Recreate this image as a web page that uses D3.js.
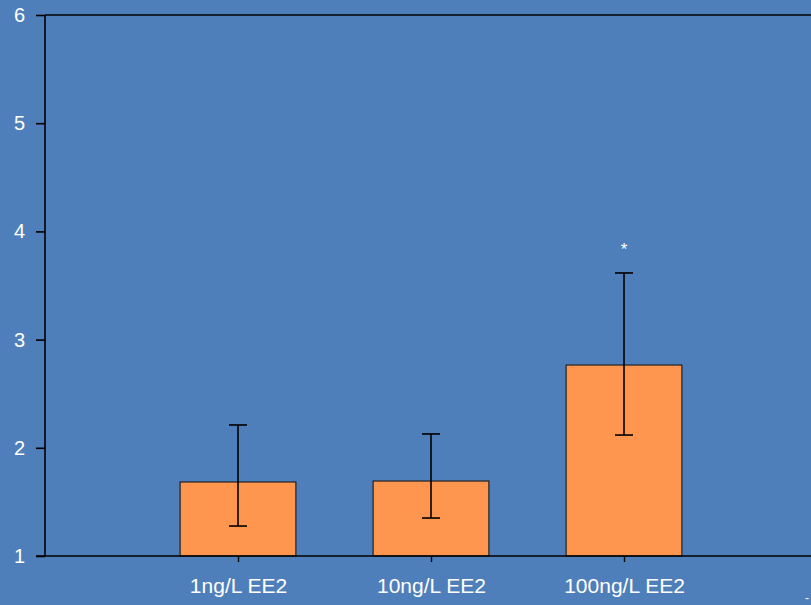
<!DOCTYPE html>
<html><head><meta charset="utf-8">
<script src="https://cdn.jsdelivr.net/npm/d3@7"></script>
<style>body{margin:0;background:#4f7fba;}svg{display:block;}</style>
</head><body>
<script>
const categories = ["1ng/L EE2", "10ng/L EE2", "100ng/L EE2"];
const means = [1.684, 1.693, 2.765];
const errHigh = [2.211, 2.128, 3.616];
const errLow = [1.277, 1.351, 2.118];
const sig = ["", "", "*"];
const yTicks = [1, 2, 3, 4, 5, 6];

const W = 811, H = 605;
const svg = d3.select("body").append("svg").attr("width", W).attr("height", H);
svg.append("rect").attr("width", W).attr("height", H).attr("fill", "#4f7fba");

const x0 = 45, x1 = 817;
const x = d3.scaleLinear().domain([0, categories.length + 1]).range([x0, x1]);
const y = d3.scaleLinear().domain([1, 6]).range([556, 15]);
const step = x(1) - x(0);
const bw = step * 0.6;

// bars
svg.selectAll("rect.bar").data(means).enter().append("rect")
  .attr("x", (d, i) => x(i + 1) - bw / 2)
  .attr("y", d => y(d))
  .attr("width", bw)
  .attr("height", d => y(1) - y(d))
  .attr("fill", "#ff9650")
  .attr("stroke", "#222").attr("stroke-width", 1.2);

// error bars
const cap = 9;
means.forEach((m, i) => {
  const cx = x(i + 1);
  const g = svg.append("g").attr("stroke", "#000").attr("stroke-width", 1.6);
  g.append("line").attr("x1", cx).attr("x2", cx).attr("y1", y(errHigh[i])).attr("y2", y(errLow[i]));
  g.append("line").attr("x1", cx - cap).attr("x2", cx + cap).attr("y1", y(errHigh[i])).attr("y2", y(errHigh[i]));
  g.append("line").attr("x1", cx - cap).attr("x2", cx + cap).attr("y1", y(errLow[i])).attr("y2", y(errLow[i]));
  if (sig[i]) {
    svg.append("text").attr("x", cx).attr("y", y(errHigh[i]) - 18)
      .attr("text-anchor", "middle").attr("fill", "#fff")
      .attr("font-family", "Liberation Sans, Arial, sans-serif").attr("font-size", 17)
      .text(sig[i]);
  }
});

// y axis
const yAxis = d3.axisLeft(y).tickValues(yTicks).tickFormat(d3.format("d")).tickSize(9).tickPadding(11);
const gy = svg.append("g").attr("transform", `translate(${x0},0)`).call(yAxis);
gy.select(".domain").attr("stroke", "#000").attr("stroke-width", 1.6).attr("d", `M0,${y(6)}V${y(1)}`);
gy.selectAll(".tick line").attr("stroke", "#000").attr("stroke-width", 1.6);
gy.selectAll(".tick text").attr("fill", "#fff").attr("font-size", 20)
  .attr("font-family", "Liberation Sans, Arial, sans-serif");

// top frame line
svg.append("line").attr("x1", x0).attr("x2", W).attr("y1", y(6)).attr("y2", y(6))
  .attr("stroke", "#000").attr("stroke-width", 1.6);

// x axis
const xAxis = d3.axisBottom(x).tickValues(categories.map((c, i) => i + 1))
  .tickFormat(d => categories[d - 1]).tickSize(6).tickPadding(16).tickSizeOuter(0);
const gx = svg.append("g").attr("transform", `translate(0,${y(1)})`).call(xAxis);
gx.select(".domain").attr("stroke", "#000").attr("stroke-width", 1.6).attr("d", `M${x0 - 9},0H${W}`);
gx.selectAll(".tick line").attr("stroke", "#000").attr("stroke-width", 1.4);
gx.selectAll(".tick text").attr("fill", "#fff").attr("font-size", 21)
  .attr("font-family", "Liberation Sans, Arial, sans-serif");

// small dash at bottom right
svg.append("text").attr("x", 805).attr("y", 602).attr("fill", "#fff")
  .attr("font-family", "Liberation Sans, Arial, sans-serif").attr("font-size", 12).text("-");
</script>
</body></html>
